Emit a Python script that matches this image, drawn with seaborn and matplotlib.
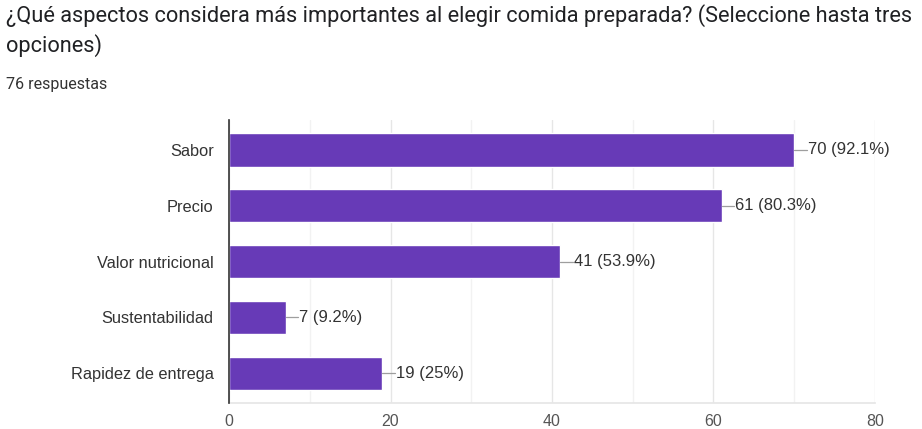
import matplotlib
matplotlib.use("Agg")
import matplotlib.pyplot as plt
import seaborn as sns
import pandas as pd

categories = ["Sabor", "Precio", "Valor nutricional", "Sustentabilidad", "Rapidez de entrega"]
counts = [70, 61, 41, 7, 19]
percent_labels = ["92.1%", "80.3%", "53.9%", "9.2%", "25%"]
total_responses = 76

df = pd.DataFrame({"aspecto": categories, "respuestas": counts})

sns.set_theme(style="white")
plt.rcParams["font.family"] = ["Liberation Sans", "DejaVu Sans"]

fig = plt.figure(figsize=(9.22, 4.29), dpi=100)
ax = fig.add_axes([0.2484, 0.0606, 0.7006, 0.6594])

purple = "#673AB7"
sns.barplot(data=df, x="respuestas", y="aspecto", color=purple, width=0.6,
            saturation=1, ax=ax, zorder=3)

ax.set_xlim(0, 80)
ax.set_xticks([0, 20, 40, 60, 80])
ax.set_xticks([10, 30, 50, 70], minor=True)
ax.grid(axis="x", which="major", color="#e6e6e6", linewidth=1, zorder=0)
ax.grid(axis="x", which="minor", color="#f2f2f2", linewidth=1, zorder=0)
ax.set_xlabel("")
ax.set_ylabel("")

for side in ["top", "right"]:
    ax.spines[side].set_visible(False)
ax.spines["bottom"].set_color("#e6e6e6")
ax.spines["left"].set_color("#333333")
ax.spines["left"].set_linewidth(1.2)
ax.spines["left"].set_zorder(5)

ax.tick_params(axis="x", length=0, labelsize=11.5, labelcolor="#555555", pad=8)
ax.tick_params(axis="y", length=0, labelsize=11.8, labelcolor="#333333", pad=11)

# Value labels with a short connector line
for i, (c, p) in enumerate(zip(counts, percent_labels)):
    ax.plot([c, c + 1.6], [i, i], color="#9e9e9e", linewidth=0.9, zorder=4,
            clip_on=False)
    ax.text(c + 1.7, i, f"{c} ({p})", va="center", ha="left",
            fontsize=12, color="#333333")

title_kw = dict(fontsize=15.7, color="#202124", va="center", ha="left",
                family=["Roboto", "DejaVu Sans"])
fig.text(0.006, 0.963, "¿Qué aspectos considera más importantes al elegir comida preparada? (Seleccione hasta tres",
         **title_kw)
fig.text(0.006, 0.893, "opciones)", **title_kw)
fig.text(0.006, 0.804, f"{total_responses} respuestas", fontsize=11.5, color="#333333",
         va="center", ha="left", family=["Roboto", "DejaVu Sans"])

fig.savefig("out.png", dpi=100, facecolor="white")
